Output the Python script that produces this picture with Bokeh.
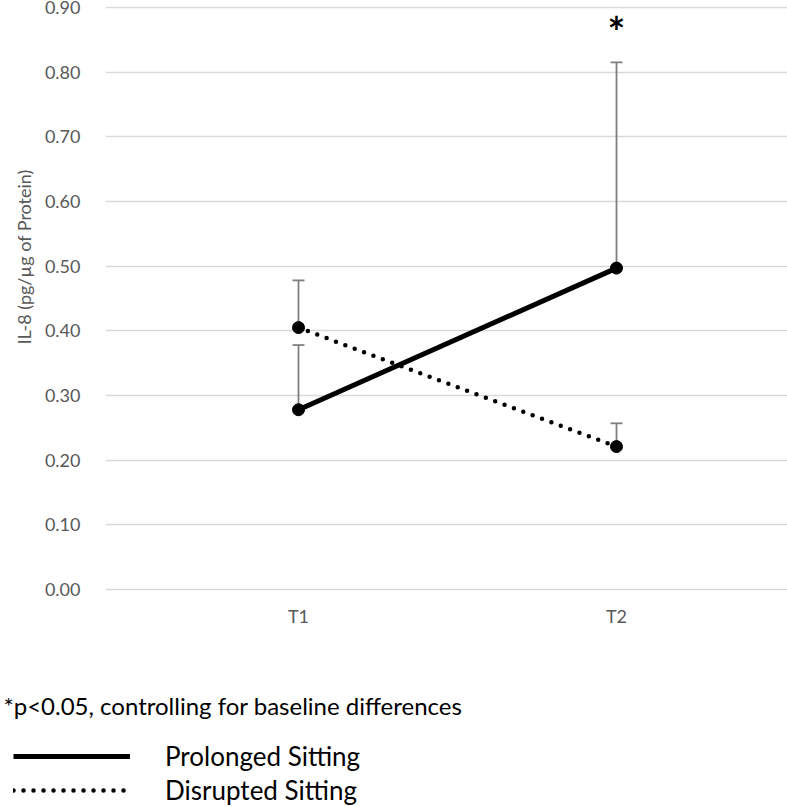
import math
from bokeh.plotting import figure
from bokeh.layouts import column
from bokeh.models import (ColumnDataSource, Whisker, TeeHead, FixedTicker,
                          NumeralTickFormatter, Legend, LegendItem, Range1d, Title, Label)
from bokeh.core.properties import value
from bokeh.embed import file_html
from bokeh.resources import INLINE

# ---- data ----
categories = ["T1", "T2"]
cat_pos = [1, 2]
prolonged = [0.278, 0.497]
prolonged_err = [0.100, 0.318]
disrupted = [0.405, 0.221]
disrupted_err = [0.073, 0.036]
y_ticks = [0.0, 0.1, 0.2, 0.3, 0.4, 0.5, 0.6, 0.7, 0.8, 0.9]
sig_marker_y = [0.862]
y_label = "IL-8 (pg/µg of Protein)"
footnote = "*p<0.05, controlling for baseline differences"
series_names = ["Prolonged Sitting", "Disrupted Sitting"]

FONT = "Lato"
GRAY = "#595959"

p = figure(width=787, height=660, output_backend="svg", toolbar_location=None,
           x_range=Range1d(0.3931, 2.5377), y_range=Range1d(-0.0046, 0.9108),
           min_border_left=105, min_border_right=0, min_border_top=0,
           min_border_bottom=68)
p.frame_align = False
p.outline_line_color = None
p.background_fill_color = "white"
p.border_fill_color = "white"

# grid
p.xgrid.grid_line_color = None
p.ygrid.grid_line_color = "#d9d9d9"
p.ygrid.grid_line_width = 1.5

# y axis
p.yaxis.ticker = FixedTicker(ticks=y_ticks)
p.yaxis.formatter = NumeralTickFormatter(format="0.00")
p.yaxis.axis_line_color = None
p.yaxis.major_tick_line_color = None
p.yaxis.minor_tick_line_color = None
p.yaxis.major_label_standoff = 19
p.yaxis.major_label_text_font = FONT
p.yaxis.major_label_text_font_size = "18px"
p.yaxis.major_label_text_color = GRAY

# x axis
p.xaxis.ticker = FixedTicker(ticks=cat_pos)
p.xaxis.major_label_overrides = {c: n for c, n in zip(cat_pos, categories)}
p.xaxis.axis_line_color = None
p.xaxis.major_tick_line_color = None
p.xaxis.minor_tick_line_color = None
p.xaxis.major_label_standoff = 6
p.xaxis.major_label_text_font = FONT
p.xaxis.major_label_text_font_size = "18px"
p.xaxis.major_label_text_color = GRAY

# error bars (upper only)
src_p = ColumnDataSource(dict(x=cat_pos, y=prolonged,
                              hi=[v + e for v, e in zip(prolonged, prolonged_err)]))
src_d = ColumnDataSource(dict(x=cat_pos, y=disrupted,
                              hi=[v + e for v, e in zip(disrupted, disrupted_err)]))
for src in (src_p, src_d):
    w = Whisker(source=src, base="x", lower="y", upper="hi", dimension="height",
                line_color="#7f7f7f", line_width=1.8,
                upper_head=TeeHead(size=12, line_color="#7f7f7f", line_width=1.8),
                lower_head=None)
    p.add_layout(w)

# lines
PRO_STYLE = dict(line_color="black", line_width=5)
DIS_STYLE = dict(line_color="black", line_width=4.5, line_dash="0 10", line_cap="round")
p.line("x", "y", source=src_p, **PRO_STYLE)
p.line("x", "y", source=src_d, **DIS_STYLE)
p.scatter("x", "y", source=src_p, size=12, color="black")
p.scatter("x", "y", source=src_d, size=12, color="black")

# significance asterisk
p.text(x=[cat_pos[1]], y=sig_marker_y, text=["*"], text_font=value(FONT),
       text_font_size="42px", text_font_style="bold", text_color="black",
       text_align="center", text_baseline="middle")

# y axis label as a title in the left panel
ylab = Title(text=y_label, align="left", offset=248, standoff=14,
             text_font=FONT, text_font_size="18px", text_font_style="normal",
             text_color=GRAY)
p.add_layout(ylab, "left")

# ---- footnote + legend panel ----
X0 = 10  # screen x = data x - X0 in this panel
p2 = figure(width=787, height=146, output_backend="svg", toolbar_location=None,
            x_range=Range1d(X0, X0 + 787), y_range=Range1d(146, 0),
            x_axis_type=None, y_axis_type=None,
            min_border_left=0, min_border_right=0, min_border_top=0,
            min_border_bottom=0)
p2.frame_align = False
p2.outline_line_color = None
p2.xgrid.grid_line_color = None
p2.ygrid.grid_line_color = None

p2.add_layout(Label(x=X0 + 3, y=45, text=footnote, text_font=FONT,
                    text_font_size="24px", text_color="black",
                    text_align="left", text_baseline="middle"))

# legend samples: same series, lying outside this panel's visible range
lp = p2.line("x", "y", source=src_p, **PRO_STYLE)
ld = p2.line("x", "y", source=src_d, **DIS_STYLE)
legend = Legend(items=[LegendItem(label=series_names[0], renderers=[lp]),
                       LegendItem(label=series_names[1], renderers=[ld])],
                location=(13, -1), orientation="vertical",
                glyph_width=117, glyph_height=34, label_height=34,
                spacing=0, label_standoff=35, padding=0, margin=0,
                border_line_color=None, background_fill_alpha=0,
                label_text_font=FONT, label_text_font_size="26px",
                label_text_color="black")
p2.add_layout(legend, "center")

layout = column(p, p2, spacing=0)
open("out.html", "w").write(file_html(layout, INLINE))
